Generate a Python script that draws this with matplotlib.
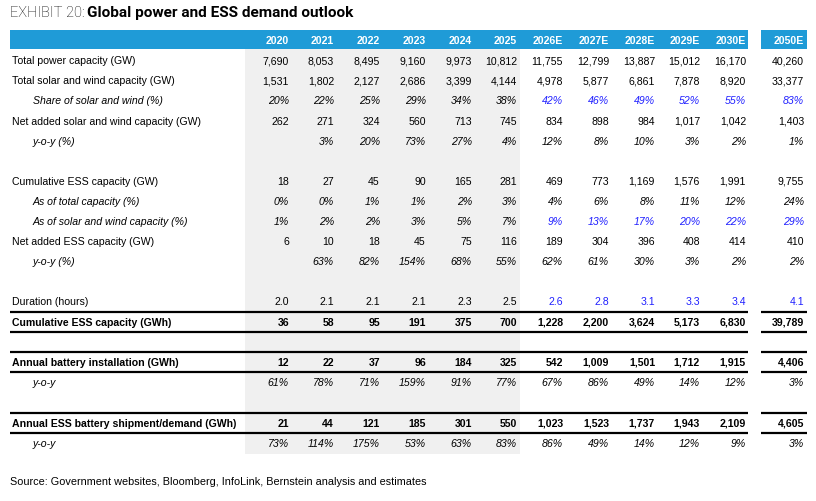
import matplotlib
matplotlib.use("Agg")
import matplotlib.pyplot as plt
from matplotlib.patches import Rectangle

# column headers
years = ["2020", "2021", "2022", "2023", "2024", "2025",
         "2026E", "2027E", "2028E", "2029E", "2030E", "2050E"]

# table rows
total_power = [7690, 8053, 8495, 9160, 9973, 10812, 11755, 12799, 13887, 15012, 16170, 40260]
total_sw = [1531, 1802, 2127, 2686, 3399, 4144, 4978, 5877, 6861, 7878, 8920, 33377]
share_sw = [20, 22, 25, 29, 34, 38, 42, 46, 49, 52, 55, 83]
net_sw = [262, 271, 324, 560, 713, 745, 834, 898, 984, 1017, 1042, 1403]
net_sw_yoy = [None, 3, 20, 73, 27, 4, 12, 8, 10, 3, 2, 1]
cum_ess_gw = [18, 27, 45, 90, 165, 281, 469, 773, 1169, 1576, 1991, 9755]
ess_of_total = [0, 0, 1, 1, 2, 3, 4, 6, 8, 11, 12, 24]
ess_of_sw = [1, 2, 2, 3, 5, 7, 9, 13, 17, 20, 22, 29]
net_ess = [6, 10, 18, 45, 75, 116, 189, 304, 396, 408, 414, 410]
net_ess_yoy = [None, 63, 82, 154, 68, 55, 62, 61, 30, 3, 2, 2]
duration = [2.0, 2.1, 2.1, 2.1, 2.3, 2.5, 2.6, 2.8, 3.1, 3.3, 3.4, 4.1]
cum_ess_gwh = [36, 58, 95, 191, 375, 700, 1228, 2200, 3624, 5173, 6830, 39789]
battery_inst = [12, 22, 37, 96, 184, 325, 542, 1009, 1501, 1712, 1915, 4406]
battery_yoy = [61, 78, 71, 159, 91, 77, 67, 86, 49, 14, 12, 3]
shipment = [21, 44, 121, 185, 301, 550, 1023, 1523, 1737, 1943, 2109, 4605]
shipment_yoy = [73, 114, 175, 53, 63, 83, 86, 49, 14, 12, 9, 3]

BLUE_HDR = "#1f9bd7"
GREY = "#f0f0f0"
EST_BLUE = "#2020ff"
FONT = "Liberation Sans"
FS = 7.6

# (label, values, kind, y, bold, italic, blue estimates)
rows = [
    ("Total power capacity (GW)", total_power, "int", 61, False, False, False),
    ("Total solar and wind capacity (GW)", total_sw, "int", 81, False, False, False),
    ("Share of solar and wind (%)", share_sw, "pct", 101, False, True, True),
    ("Net added solar and wind capacity (GW)", net_sw, "int", 122, False, False, False),
    ("y-o-y (%)", net_sw_yoy, "pct", 142, False, True, False),
    ("Cumulative ESS capacity (GW)", cum_ess_gw, "int", 182, False, False, False),
    ("As of total capacity (%)", ess_of_total, "pct", 202, False, True, False),
    ("As of solar and wind capacity (%)", ess_of_sw, "pct", 222, False, True, True),
    ("Net added ESS capacity (GW)", net_ess, "int", 242, False, False, False),
    ("y-o-y (%)", net_ess_yoy, "pct", 262, False, True, False),
    ("Duration (hours)", duration, "dec", 302, False, False, True),
    ("Cumulative ESS capacity (GWh)", cum_ess_gwh, "int", 323, True, False, False),
    ("Annual battery installation (GWh)", battery_inst, "int", 363, True, False, False),
    ("y-o-y", battery_yoy, "pct", 383, False, True, False),
    ("Annual ESS battery shipment/demand (GWh)", shipment, "int", 424, True, False, False),
    ("y-o-y", shipment_yoy, "pct", 444, False, True, False),
]

col_right = [289, 334, 380, 426, 472, 517, 563, 609, 655, 700, 746, 804]


def fmt(v, kind):
    if v is None:
        return ""
    if kind == "int":
        return f"{v:,}"
    if kind == "pct":
        return f"{v}%"
    return f"{v:.1f}"


fig = plt.figure(figsize=(8.16, 5.02), dpi=100)
ax = fig.add_axes([0, 0, 1, 1])
ax.set_xlim(0, 816)
ax.set_ylim(502, 0)
ax.axis("off")

# grey shading for historical years
ax.add_patch(Rectangle((245, 50), 275, 405, color=GREY, lw=0, zorder=0))

# header bars
ax.add_patch(Rectangle((10, 31), 738, 18.5, color=BLUE_HDR, lw=0, zorder=1))
ax.add_patch(Rectangle((761, 31), 46, 18.5, color=BLUE_HDR, lw=0, zorder=1))
for x, yr in zip(col_right, years):
    ax.text(x, 41, yr, ha="right", va="center", color="white", fontsize=FS,
            fontweight="bold", family=FONT, zorder=2)

# title
fig.canvas.draw()
r = fig.canvas.get_renderer()
t1 = ax.text(10, 13, "EXHIBIT 20: ", ha="left", va="center", fontsize=10.5,
             family="Roboto", fontweight="light", color="black")
bb = t1.get_window_extent(renderer=r)
x2 = ax.transData.inverted().transform((bb.x1, bb.y0))[0]
ax.text(x2 - 1, 13, "Global power and ESS demand outlook", ha="left", va="center",
        fontsize=11.1, family="Roboto", fontweight="bold", color="black")

# rows
for label, vals, kind, y, bold, italic, est_blue in rows:
    lx = 33 if italic else 12
    ax.text(lx, y, label, ha="left", va="center", fontsize=FS, family=FONT,
            fontweight="bold" if bold else "normal",
            style="italic" if italic else "normal", color="black")
    for i, (x, v) in enumerate(zip(col_right, vals)):
        c = EST_BLUE if (est_blue and i >= 6) else "black"
        ax.text(x, y, fmt(v, kind), ha="right", va="center", fontsize=FS,
                family=FONT, fontweight="bold" if bold else "normal",
                style="italic" if italic else "normal", color=c)

# rule lines
for y in [313, 333, 353, 373, 414, 434]:
    ax.plot([10, 748], [y, y], color="black", lw=1.6, solid_capstyle="butt")
    ax.plot([761, 807], [y, y], color="black", lw=1.6, solid_capstyle="butt")

ax.text(10, 482, "Source: Government websites, Bloomberg, InfoLink, Bernstein analysis and estimates",
        ha="left", va="center", fontsize=7.85, family=FONT, color="black")

fig.savefig("out.png", dpi=100)
